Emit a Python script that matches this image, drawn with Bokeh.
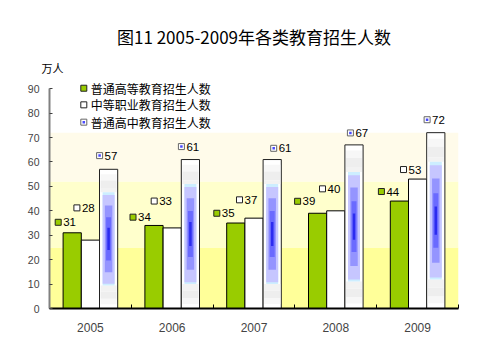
from bokeh.plotting import figure
from bokeh.models import FixedTicker, BoxAnnotation, Range1d, Title
from bokeh.core.properties import value
from bokeh.embed import file_html
from bokeh.resources import INLINE

# ---------------- data ----------------
years = ["2005", "2006", "2007", "2008", "2009"]
higher_ed = [31, 34, 35, 39, 44]        # 普通高等教育招生人数
vocational = [28, 33, 37, 40, 53]       # 中等职业教育招生人数
high_school = [57, 61, 61, 67, 72]      # 普通高中教育招生人数
series_names = ["普通高等教育招生人数", "中等职业教育招生人数", "普通高中教育招生人数"]
y_ticks = [0, 10, 20, 30, 40, 50, 60, 70, 80, 90]
title_text = "图11 2005-2009年各类教育招生人数"
unit_text = "万人"

# label placement: marker offset from bar centre (px) and lift above bar (value units)
hi_lbl_dx = [-14, -21, -19, -20, -18]
hi_lbl_lift = [4.3, 3.4, 4.0, 4.9, 3.9]
voc_lbl_dx = [-13.5, -18, -14.5, -13.3, -14.1]
voc_lbl_lift = [13.2, 11.0, 7.5, 9.0, 3.9]
hs_lbl_dx = [-9, -9, 1.5, -3.6, -8.7]
hs_lbl_lift = [5.6, 5.3, 4.6, 4.9, 5.3]

# ---------------- layout ----------------
W, H = 490, 352
BL, BR, BT, BB = 49, 32, 76, 44
PX = (W - BL - BR) / 5.0          # px per category unit
BW = 18.2 / PX                    # bar width
CJK = value("Noto Sans CJK SC")
LAT = value("Liberation Sans")

p = figure(width=W, height=H, output_backend="svg", toolbar_location=None,
           x_range=Range1d(0, 5), y_range=Range1d(0, 95),
           min_border_left=BL, min_border_right=BR, min_border_top=BT, min_border_bottom=BB)
p.outline_line_color = None
p.xgrid.visible = False
p.ygrid.visible = False
p.background_fill_color = "white"
p.border_fill_color = "white"

# titles
p.add_layout(Title(text=unit_text, align="left", offset=-8, standoff=1,
                   text_font="Noto Sans CJK SC", text_font_size="11px",
                   text_font_style="normal", text_color="black"), "above")
p.title = Title(text=title_text, align="center", standoff=18,
                text_font="Noto Sans CJK SC", text_font_size="17px",
                text_font_style="normal", text_color="black")

# background bands
for b, t, c in [(0, 25, "#FFFF99"), (25, 52, "#FFFFCC"), (52, 72, "#FFFBEA")]:
    p.add_layout(BoxAnnotation(left=0, right=5, bottom=b, top=t, fill_color=c,
                               fill_alpha=1, line_color=None, level="underlay"))

centers = [i + 0.5 for i in range(len(years))]
x_hi = [c - BW for c in centers]
x_voc = centers
x_hs = [c + BW for c in centers]

# bars
p.vbar(x=x_hi, top=higher_ed, width=BW, fill_color="#99CC00", line_color="black", line_width=1)
p.vbar(x=x_voc, top=vocational, width=BW, fill_color="white", line_color="black", line_width=1)
p.vbar(x=x_hs, top=high_school, width=BW, fill_color="white", line_color="#222222", line_width=1)

# gradient-like interior of the high-school bars
layers = [
    (0.92, 0.965, 16, "#f7f7f7"), (0.86, 0.92, 16, "#eeeeee"), (0.835, 0.86, 16, "#f2f2f2"),
    (0.03, 0.07, 16, "#f7f7f7"), (0.07, 0.12, 16, "#eeeeee"), (0.12, 0.165, 16, "#f2f2f2"),
    (0.165, 0.835, 12, "#cdeeff"), (0.177, 0.815, 12, "#c6c6ff"),
    (0.26, 0.74, 7.5, "#9494ff"), (0.345, 0.655, 5, "#6a6aff"), (0.42, 0.58, 2.5, "#2c2cf0"),
]
for fb, ft, wpx, col in layers:
    p.vbar(x=x_hs, bottom=[v * fb for v in high_school], top=[v * ft for v in high_school],
           width=wpx / PX, fill_color=col, line_color=None)

# data labels
def labels(xs, vals, dxs, lifts, fill, line, dot=False):
    mx = [x + d / PX for x, d in zip(xs, dxs)]
    my = [v + l for v, l in zip(vals, lifts)]
    p.scatter(mx, my, marker="square", size=6, fill_color=fill, line_color=line, line_width=1)
    if dot:
        p.scatter(mx, my, marker="square", size=2.5, fill_color="#4a4aff", line_color=None)
    p.text(mx, my, text=[str(v) for v in vals], x_offset=5, text_baseline="middle",
           text_align="left", text_font=LAT, text_font_size="11.5px", text_color="black")

labels(x_hi, higher_ed, hi_lbl_dx, hi_lbl_lift, "#99CC00", "#222222")
labels(x_voc, vocational, voc_lbl_dx, voc_lbl_lift, "white", "#222222")
labels(x_hs, high_school, hs_lbl_dx, hs_lbl_lift, "white", "#666666", dot=True)

# legend (manual)
leg_x = (83.3 - BL) / PX
leg_y = [90.2, 83.4, 76.3]
leg_fill = ["#99CC00", "white", "white"]
leg_line = ["#222222", "#222222", "#666666"]
for name, yy, f, l in zip(series_names, leg_y, leg_fill, leg_line):
    p.scatter([leg_x], [yy], marker="square", size=6, fill_color=f, line_color=l, line_width=1)
    p.text([leg_x], [yy], text=[name], x_offset=7, text_baseline="middle", text_align="left",
           text_font=CJK, text_font_size="12px", text_color="black")
p.scatter([leg_x], [leg_y[2]], marker="square", size=2.5, fill_color="#4a4aff", line_color=None)

# axes
p.xaxis.ticker = FixedTicker(ticks=centers, minor_ticks=[0, 1, 2, 3, 4, 5])
p.xaxis.major_label_overrides = {c: y for c, y in zip(centers, years)}
p.xaxis.major_tick_in = 0
p.xaxis.major_tick_out = 0
p.xaxis.minor_tick_in = 4
p.xaxis.minor_tick_out = 0
p.xaxis.minor_tick_line_color = "black"
p.xaxis.axis_line_color = "black"
p.xaxis.axis_line_width = 2
p.xaxis.major_label_text_font = "Liberation Sans"
p.xaxis.major_label_text_font_size = "12px"
p.xaxis.major_label_standoff = 14

p.yaxis.ticker = FixedTicker(ticks=y_ticks)
p.yaxis.bounds = (0, 90)
p.yaxis.axis_line_color = "#808080"
p.yaxis.axis_line_width = 2
p.yaxis.major_tick_in = 3
p.yaxis.major_tick_out = 0
p.yaxis.major_tick_line_color = "#404040"
p.yaxis.minor_tick_line_color = None
p.yaxis.major_label_text_font = "Liberation Sans"
p.yaxis.major_label_text_font_size = "10.5px"
p.yaxis.major_label_standoff = 10

open("out.html", "w").write(file_html(p, INLINE))
